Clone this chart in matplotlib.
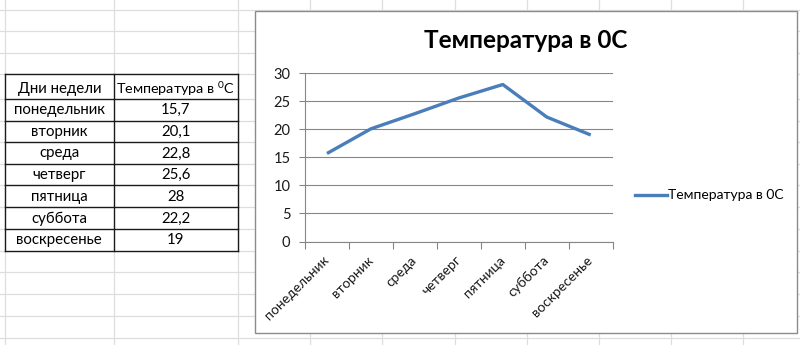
import matplotlib
matplotlib.use('Agg')
import matplotlib.pyplot as plt
from matplotlib.lines import Line2D
from matplotlib.patches import Rectangle
from matplotlib.ticker import FixedLocator

# ---- data ----
days = ['понедельник', 'вторник', 'среда', 'четверг', 'пятница', 'суббота', 'воскресенье']
temps = [15.7, 20.1, 22.8, 25.6, 28, 22.2, 19]
temp_labels = ['15,7', '20,1', '22,8', '25,6', '28', '22,2', '19']
header = ['Дни недели', 'Температура в $^{0}$С']
series_name = 'Температура в 0С'
chart_title = 'Температура в 0С'
y_ticks = [0, 5, 10, 15, 20, 25, 30]

FONT = ['Lato', 'DejaVu Sans']
plt.rcParams['font.family'] = FONT
plt.rcParams['mathtext.fontset'] = 'custom'
plt.rcParams['mathtext.rm'] = 'Lato'
plt.rcParams['mathtext.default'] = 'regular'

W, H = 800, 345
fig = plt.figure(figsize=(W / 100, H / 100), dpi=100)
fig.patch.set_facecolor('white')


def fx(x):
    return x / W


def fy(y):
    return 1 - y / H


# ---- spreadsheet background grid ----
grid_c = '#dedede'
col_lines = [5, 113.5, 238, 310, 382, 455, 527, 599, 671, 743]
row_lines = [9.5, 31, 52.5, 74.3, 99, 120.7, 142, 164, 185.3, 207.3, 229, 250.7, 272, 293.5, 316, 338]
for x in col_lines:
    fig.add_artist(Line2D([fx(x), fx(x)], [0, 1], transform=fig.transFigure, color=grid_c, lw=0.9, zorder=0))
for y in row_lines:
    fig.add_artist(Line2D([0, 1], [fy(y), fy(y)], transform=fig.transFigure, color=grid_c, lw=0.9, zorder=0))

# ---- table ----
t_left, t_mid, t_right = 5, 113.5, 238
t_rows = [74.3, 99, 120.7, 142, 164, 185.3, 207.3, 229, 250.7]
tc = '#1a1a1a'
for y in t_rows:
    fig.add_artist(Line2D([fx(t_left), fx(t_right)], [fy(y), fy(y)], transform=fig.transFigure, color=tc, lw=1.0, zorder=2))
for x in (t_left, t_mid, t_right):
    fig.add_artist(Line2D([fx(x), fx(x)], [fy(t_rows[0]), fy(t_rows[-1])], transform=fig.transFigure, color=tc, lw=1.0, zorder=2))
fig.add_artist(Rectangle((fx(t_left), fy(t_rows[-1])), fx(t_right) - fx(t_left), fy(t_rows[0]) - fy(t_rows[-1]),
                         transform=fig.transFigure, facecolor='white', edgecolor='none', zorder=1))

tfs = 10.8
c1 = (t_left + t_mid) / 2
c2 = (t_mid + t_right) / 2
fig.text(fx(c1), fy((t_rows[0] + t_rows[1]) / 2 + 2), header[0], ha='center', va='center', fontsize=tfs, zorder=3)
fig.text(fx(c2), fy((t_rows[0] + t_rows[1]) / 2 + 2), header[1], ha='center', va='center', fontsize=tfs - 0.4, zorder=3)
for i, (d, v) in enumerate(zip(days, temp_labels)):
    yc = (t_rows[i + 1] + t_rows[i + 2]) / 2 + 0.5
    fig.text(fx(c1), fy(yc), d, ha='center', va='center', fontsize=tfs, zorder=3)
    fig.text(fx(c2), fy(yc), v, ha='center', va='center', fontsize=tfs, zorder=3)

# ---- chart area ----
fig.add_artist(Rectangle((fx(255), fy(333)), fx(797) - fx(255), fy(11) - fy(333),
                         transform=fig.transFigure, facecolor='white', edgecolor='#8c8c8c', lw=1.0, zorder=1))

fig.text(fx(526), fy(40), chart_title, ha='center', va='center', fontsize=17.5, fontweight='bold', zorder=3)

ax_l, ax_r, ax_t, ax_b = 305, 612.7, 73.3, 241.5
ax = fig.add_axes([fx(ax_l), fy(ax_b), fx(ax_r) - fx(ax_l), (ax_b - ax_t) / H], zorder=4)
ax.patch.set_alpha(0)
xs = list(range(len(days)))
ax.plot(xs, temps, color='#4A7EBB', lw=2.4, solid_capstyle='butt', zorder=3)
ax.set_xlim(-0.5, len(days) - 0.5)
ax.set_ylim(0, 30)
ax.set_yticks(y_ticks)
ax.set_yticklabels([str(v) for v in y_ticks])
ax.yaxis.grid(True, color='#868686', lw=0.8)
ax.set_axisbelow(True)
for s in ('top', 'right'):
    ax.spines[s].set_visible(False)
for s in ('left', 'bottom'):
    ax.spines[s].set_color('#868686')
    ax.spines[s].set_linewidth(0.8)
ax.tick_params(axis='y', length=4, width=0.8, color='#868686', pad=6.5, labelsize=10.5, labelcolor='#1a1a1a')
ax.set_xticks(xs)
ax.set_xticklabels(days, rotation=45, ha='right', va='center', rotation_mode='anchor')
ax.xaxis.set_minor_locator(FixedLocator([i - 0.5 for i in range(len(days) + 1)]))
ax.tick_params(axis='x', which='major', length=0, pad=12, labelsize=10, labelcolor='#1a1a1a')
ax.tick_params(axis='x', which='minor', length=5, width=0.8, color='#868686')

# ---- legend ----
fig.add_artist(Line2D([fx(635), fx(667)], [fy(195), fy(195)], transform=fig.transFigure,
                      color='#4A7EBB', lw=2.4, zorder=3))
fig.text(fx(668), fy(195), series_name, ha='left', va='center', fontsize=10, zorder=3)

fig.savefig('out.png', dpi=100)
